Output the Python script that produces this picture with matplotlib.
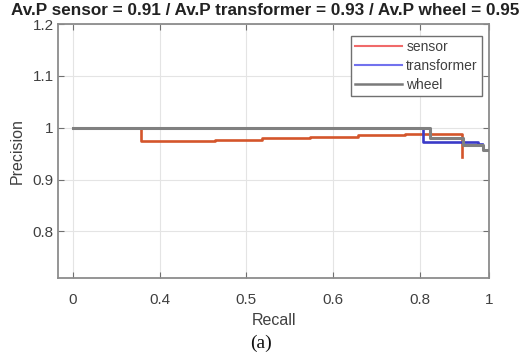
import numpy as np
import matplotlib
matplotlib.use('Agg')
import matplotlib.pyplot as plt
from matplotlib.lines import Line2D

plt.rcParams['font.family'] = ['Liberation Sans', 'DejaVu Sans']

# recall axis is drawn on an evenly spaced scale with these labels
tick_pos = [0., 0.2, 0.4, 0.6, 0.8, 0.96]
tick_lab = ['0', '0.4', '0.5', '0.6', '0.8', '1']

# precision-recall step curves
sensor_r = [0.0, 0.158, 0.216, 0.327, 0.437, 0.548, 0.658, 0.765, 0.897, 0.897]
sensor_p = [1.0, 0.974, 0.975, 0.977, 0.980, 0.9826, 0.9864, 0.988, 0.988, 0.944]

transformer_r = [0.0, 0.807, 0.934, 0.943]
transformer_p = [1.0, 0.972, 0.968, 0.968]

wheel_r = [0.0, 0.823, 0.899, 0.945, 0.957]
wheel_p = [1.0, 0.980, 0.966, 0.956, 0.956]

c_sensor = '#d4552b'
c_trans = '#3a3ac8'
c_wheel = '#808080'

fig = plt.figure(figsize=(5.26, 3.62), dpi=100)
ax = fig.add_axes([0.1103, 0.232, 0.8194, 0.7017])

ax.plot(sensor_r, sensor_p, drawstyle='steps-post', color=c_sensor, lw=1.9, zorder=3)
ax.plot(transformer_r, transformer_p, drawstyle='steps-post', color=c_trans, lw=1.9, zorder=4)
ax.plot(wheel_r, wheel_p, drawstyle='steps-post', color=c_wheel, lw=2.2, zorder=5)

ax.set_xlim(-0.0346, 0.959)
ax.set_ylim(0.71, 1.2)
ax.set_xticks(tick_pos)
ax.set_xticklabels(tick_lab)
ax.set_yticks([0.8, 0.9, 1.0, 1.1, 1.2])
ax.set_yticklabels(['0.8', '0.9', '1', '1.1', '1.2'])

ax.grid(True, color='#e4e4e4', lw=0.8)
ax.set_axisbelow(True)
ax.tick_params(direction='in', length=4, width=0.8, colors='#707070',
               labelcolor='#404040', labelsize=11, top=True, right=True)
ax.tick_params(axis='x', pad=11)
ax.tick_params(axis='y', pad=3)
for s in ax.spines.values():
    s.set_color('#8c8c8c')
    s.set_linewidth(1.3)

ax.set_xlabel('Recall', fontsize=11.5, color='#404040', labelpad=4)
ax.set_ylabel('Precision', fontsize=11.5, color='#404040', labelpad=6)

handles = [Line2D([], [], color='#f06a6a', lw=1.5),
           Line2D([], [], color='#7272ee', lw=1.5),
           Line2D([], [], color='#7a7a7a', lw=1.8)]
leg = ax.legend(handles, ['sensor', 'transformer', 'wheel'], loc='upper right',
                bbox_to_anchor=(0.984, 0.953), borderaxespad=0, fontsize=10,
                handlelength=3.4, handletextpad=0.3, labelspacing=0.35,
                borderpad=0.3, fancybox=False, framealpha=1)
leg.get_frame().set_edgecolor('#707070')
leg.get_frame().set_linewidth(1.0)
for t in leg.get_texts():
    t.set_color('#404040')

fig.text(0.505, 0.972, 'Av.P sensor = 0.91 / Av.P transformer = 0.93 / Av.P wheel = 0.95',
         ha='center', va='center', fontsize=12.3, fontweight='bold', color='#222222')
fig.text(0.497, 0.052, '(a)', ha='center', va='center', fontsize=14,
         family=['Liberation Serif', 'DejaVu Serif'], color='#111111')

fig.savefig('out.png', dpi=100)
